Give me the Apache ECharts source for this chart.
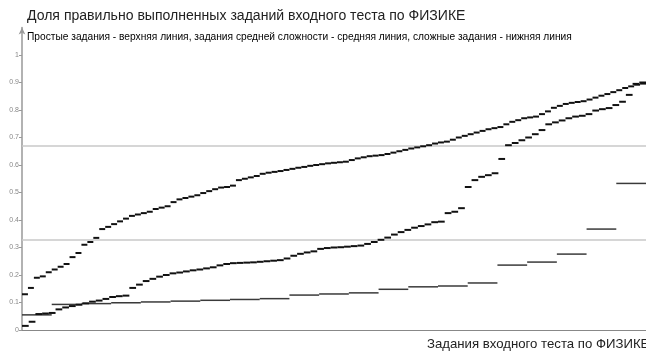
<!DOCTYPE html>
<html>
<head>
<meta charset="utf-8">
<script src="https://cdn.jsdelivr.net/npm/echarts@6/dist/echarts.min.js"></script>
<style>
  html, body { margin: 0; padding: 0; background: #fff; }
  #chart { width: 646px; height: 353px; }
</style>
</head>
<body>
<div id="chart"></div>
<script>
// Доли правильных ответов, упорядоченные по возрастанию
const easyTasks = [
  0.13, 0.153, 0.19, 0.195, 0.21, 0.22, 0.23, 0.24, 0.265, 0.28,
  0.31, 0.32, 0.335, 0.367, 0.375, 0.385, 0.395, 0.405, 0.415, 0.42,
  0.425, 0.43, 0.44, 0.445, 0.45, 0.465, 0.475, 0.48, 0.485, 0.49,
  0.498, 0.505, 0.512, 0.518, 0.52, 0.525, 0.545, 0.55, 0.555, 0.56,
  0.568, 0.572, 0.575, 0.578, 0.582, 0.586, 0.59, 0.593, 0.597, 0.6,
  0.603, 0.606, 0.608, 0.61, 0.612, 0.618, 0.624, 0.628, 0.632, 0.634,
  0.636, 0.64, 0.645, 0.65, 0.655, 0.66, 0.664, 0.668, 0.672, 0.678,
  0.682, 0.685, 0.692, 0.7, 0.706, 0.712, 0.718, 0.724, 0.73, 0.734,
  0.738, 0.748, 0.757, 0.763, 0.77, 0.773, 0.776, 0.785, 0.795, 0.808,
  0.815, 0.822, 0.826, 0.829, 0.832, 0.838, 0.845, 0.852, 0.858, 0.865,
  0.872, 0.88, 0.886, 0.892, 0.896
];

const mediumTasks = [
  0.015, 0.03, 0.058, 0.06, 0.062, 0.075, 0.082, 0.087, 0.092, 0.097,
  0.103, 0.107, 0.113, 0.12, 0.123, 0.125, 0.153, 0.165, 0.178, 0.186,
  0.194, 0.2, 0.206, 0.209, 0.213, 0.217, 0.22, 0.224, 0.228, 0.235,
  0.24, 0.243, 0.244, 0.245, 0.246, 0.248, 0.25, 0.252, 0.254, 0.26,
  0.27, 0.277, 0.282, 0.286, 0.295, 0.298, 0.3, 0.301, 0.303, 0.305,
  0.307, 0.313, 0.32, 0.328, 0.336, 0.347, 0.356, 0.364, 0.372, 0.378,
  0.384, 0.392, 0.394, 0.425, 0.43, 0.443, 0.52, 0.545, 0.557, 0.563,
  0.57, 0.622, 0.672, 0.68, 0.69, 0.7, 0.712, 0.727, 0.748, 0.755,
  0.762, 0.77, 0.776, 0.779, 0.785, 0.798, 0.803, 0.807, 0.818, 0.83,
  0.855, 0.895, 0.9
];

const hardTasks = [
  0.055, 0.093, 0.096, 0.099, 0.102, 0.105, 0.108, 0.111, 0.114, 0.127,
  0.131, 0.135, 0.148, 0.157, 0.16, 0.171, 0.236, 0.247, 0.276, 0.367,
  0.533
];

// Границы уровней сложности
const levelLines = [0.333, 0.667];

// Подписи оси Y
const yTicks = [0, 0.1, 0.2, 0.3, 0.4, 0.5, 0.6, 0.7, 0.8, 0.9, 1];

const chart = echarts.init(document.getElementById('chart'));

// Каждое задание - горизонтальный отрезок своей ширины
function stepSeries(values, color, width) {
  const n = values.length;
  return {
    type: 'custom',
    clip: false,
    z: 5,
    data: values.map((v, i) => [i, v]),
    renderItem: function(params, api) {
      const i = api.value(0);
      const v = api.value(1);
      const a = api.coord([i / n, v]);
      const b = api.coord([(i + 1) / n, v]);
      return {
        type: 'line',
        shape: { x1: a[0], y1: a[1], x2: b[0], y2: b[1] },
        style: { stroke: color, lineWidth: width }
      };
    }
  };
}

const option = {
  animation: false,
  title: {
    text: 'Доля правильно выполненных заданий входного теста по ФИЗИКЕ',
    subtext: 'Простые задания - верхняя линия, задания средней сложности - средняя линия, сложные задания - нижняя линия',
    left: 27,
    top: 9,
    padding: 0,
    itemGap: 9,
    textStyle: { fontFamily: 'Liberation Sans, Arial', fontSize: 14.05, fontWeight: 'normal', color: '#222' },
    subtextStyle: { fontFamily: 'Liberation Sans, Arial', fontSize: 10.2, color: '#000' }
  },
  grid: { left: 22, right: -7, top: 27.5, bottom: 23 },
  xAxis: {
    type: 'value',
    min: 0,
    max: 1,
    axisLine: { show: true, lineStyle: { color: '#888', width: 1 } },
    axisTick: { show: false },
    axisLabel: { show: false },
    splitLine: { show: false }
  },
  yAxis: {
    type: 'value',
    min: 0,
    max: 1.1,
    axisLine: {
      show: true,
      symbol: ['none', 'arrow'],
      symbolSize: [5, 7],
      lineStyle: { color: '#999', width: 1.5 }
    },
    axisTick: { show: true, length: 3, customValues: yTicks, lineStyle: { color: '#999' } },
    axisLabel: {
      customValues: yTicks,
      fontSize: 7,
      color: '#888',
      margin: 3,
      fontFamily: 'Liberation Sans, Arial'
    },
    splitLine: { show: false }
  },
  graphic: [{
    type: 'text',
    left: 427,
    top: 338,
    style: {
      text: 'Задания входного теста по ФИЗИКЕ',
      font: '13.2px "Liberation Sans", Arial',
      fill: '#222'
    }
  }],
  series: [
    {
      type: 'line',
      data: [],
      z: 1,
      markLine: {
        silent: true,
        symbol: 'none',
        label: { show: false },
        lineStyle: { color: '#c8c8c8', width: 1.5, type: 'solid' },
        data: levelLines.map(v => ({ yAxis: v }))
      }
    },
    stepSeries(hardTasks, '#3a3a3a', 1.5),
    stepSeries(mediumTasks, '#111', 2),
    stepSeries(easyTasks, '#111', 2)
  ]
};

chart.setOption(option);
</script>
</body>
</html>
